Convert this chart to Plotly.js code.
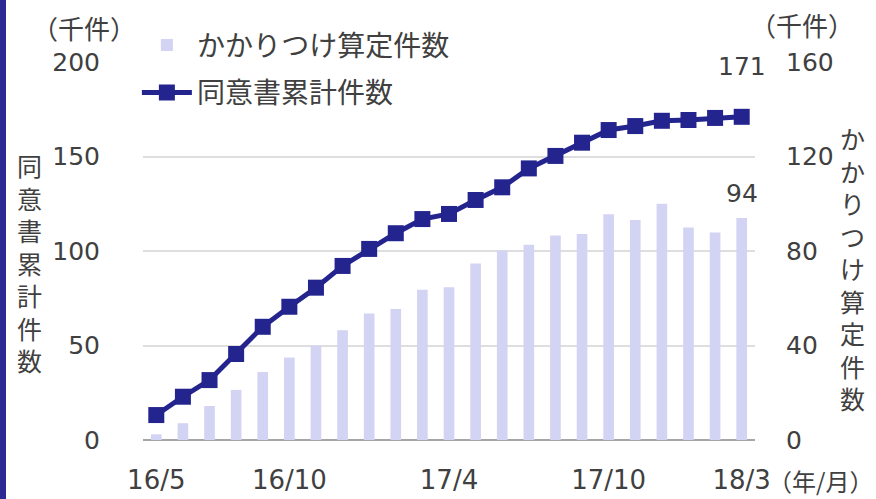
<!DOCTYPE html>
<html>
<head>
<meta charset="utf-8">
<script src="https://cdn.plot.ly/plotly-3.0.1.min.js"></script>
<style>
html,body{margin:0;padding:0;background:#fff;}
#chart{width:876px;height:499px;}
</style>
</head>
<body>
<div id="chart"></div>
<script>
// Categories (year/month)
const months = ["16/5","16/6","16/7","16/8","16/9","16/10","16/11","16/12","17/1","17/2","17/3","17/4",
                "17/5","17/6","17/7","17/8","17/9","17/10","17/11","17/12","18/1","18/2","18/3"];
// かかりつけ算定件数 (千件, right axis)
const kakaritsuke = [2.4, 7.1, 14.4, 21.2, 28.8, 34.9, 40.0, 46.5, 53.5, 55.5, 63.6, 64.7,
                     74.7, 80.2, 82.6, 86.6, 87.2, 95.6, 93.1, 100.0, 90.0, 87.8, 94];
// 同意書累計件数 (千件, left axis)
const doisho = [13.2, 22.9, 31.7, 45.5, 59.9, 70.5, 80.6, 92.1, 101.1, 109.4, 116.9, 119.6,
                127.0, 133.7, 143.7, 150.3, 157.3, 164.0, 166.1, 168.9, 169.3, 170.4, 171];
// Tick labels
const xTicks = ["16/5","16/10","17/4","17/10","18/3"];
const leftTicks = [0, 50, 100, 150, 200];
const rightTicks = [0, 40, 80, 120, 160];

const textColor = "#404040";
const cjk = "Noto Sans CJK JP, Noto Sans, sans-serif";
const num = "DejaVu Sans, Noto Sans CJK JP, sans-serif";
const last = months.length - 1;

const traces = [
  {
    type: "bar", name: "かかりつけ算定件数", x: months, y: kakaritsuke, yaxis: "y",
    marker: {color: "#d3d3f3"}, legendgroup: "a"
  },
  {
    type: "scatter", mode: "lines+markers", name: "同意書累計件数", x: months, y: doisho, yaxis: "y2",
    line: {color: "#24248f", width: 5}, marker: {symbol: "square", size: 16, color: "#24248f"},
    legendgroup: "b"
  }
];

const layout = {
  width: 876, height: 499,
  margin: {l: 143, r: 121, t: 62, b: 59},
  paper_bgcolor: "#fff", plot_bgcolor: "#fff",
  font: {family: cjk, color: textColor, size: 26},
  bargap: 0.6,
  showlegend: true,
  legend: {
    x: -0.01, xanchor: "left", y: 1.11, yanchor: "top",
    font: {size: 28, color: textColor, family: cjk},
    bgcolor: "rgba(0,0,0,0)", traceorder: "grouped", tracegroupgap: 8,
    itemwidth: 50
  },
  xaxis: {
    type: "category", range: [-0.5, months.length - 0.5], autorange: false,
    tickmode: "array", tickvals: xTicks, ticktext: xTicks,
    showgrid: false, showline: false, ticks: "", zeroline: false,
    tickfont: {size: 26, color: textColor, family: num}, ticklabelstandoff: 22
  },
  yaxis: {
    side: "right", range: [0, 160], tickmode: "array", tickvals: rightTicks,
    showgrid: true, gridcolor: "#dedede", gridwidth: 2,
    zeroline: true, zerolinecolor: "#a6a6a6", zerolinewidth: 2,
    showline: false, ticks: "", tickfont: {size: 25, color: textColor, family: num},
    ticklabelstandoff: 30, fixedrange: true
  },
  yaxis2: {
    overlaying: "y", side: "left", range: [0, 200], tickmode: "array", tickvals: leftTicks,
    showgrid: false, zeroline: false, showline: false, ticks: "",
    tickfont: {size: 25, color: textColor, family: num}, ticklabelstandoff: 42, fixedrange: true
  },
  shapes: [
    {type: "rect", xref: "paper", yref: "paper", xsizemode: "pixel", xanchor: 0,
     x0: -143, x1: -137, y0: -1, y1: 2, fillcolor: "#2a2a92", line: {width: 0}, layer: "above"}
  ],
  annotations: [
    {xref: "paper", yref: "paper", x: -0.096, y: 1.0, xanchor: "center", yanchor: "middle",
     yshift: 35, text: "（千件）", showarrow: false, font: {size: 26, color: textColor, family: cjk}},
    {xref: "paper", yref: "paper", x: 1.077, y: 1.0, xanchor: "center", yanchor: "middle",
     yshift: 38, text: "（千件）", showarrow: false, font: {size: 26, color: textColor, family: cjk}},
    {xref: "paper", yref: "paper", x: 1.196, y: 0, xanchor: "right", yanchor: "middle",
     yshift: -40, text: "（年/月）", showarrow: false, font: {size: 24, color: textColor, family: cjk}},
    {xref: "paper", yref: "paper", x: -0.186, y: 0.47, xanchor: "center", yanchor: "middle",
     text: "同意書累計件数".split("").join("<br>"), showarrow: false,
     font: {size: 25, color: textColor, family: cjk}},
    {xref: "paper", yref: "paper", x: 1.16, y: 0.455, xanchor: "center", yanchor: "middle",
     text: "かかりつけ算定件数".split("").join("<br>"), showarrow: false,
     font: {size: 25, color: textColor, family: cjk}},
    {xref: "x", yref: "y2", x: months[last], y: doisho[last], yanchor: "middle", yshift: 50,
     text: String(doisho[last]), showarrow: false, font: {size: 25, color: textColor, family: num}},
    {xref: "x", yref: "y", x: months[last], y: kakaritsuke[last], yanchor: "middle", yshift: 24,
     text: String(kakaritsuke[last]), showarrow: false, font: {size: 25, color: textColor, family: num}}
  ]
};

Plotly.newPlot("chart", traces, layout, {displayModeBar: false, staticPlot: true});
</script>
</body>
</html>
